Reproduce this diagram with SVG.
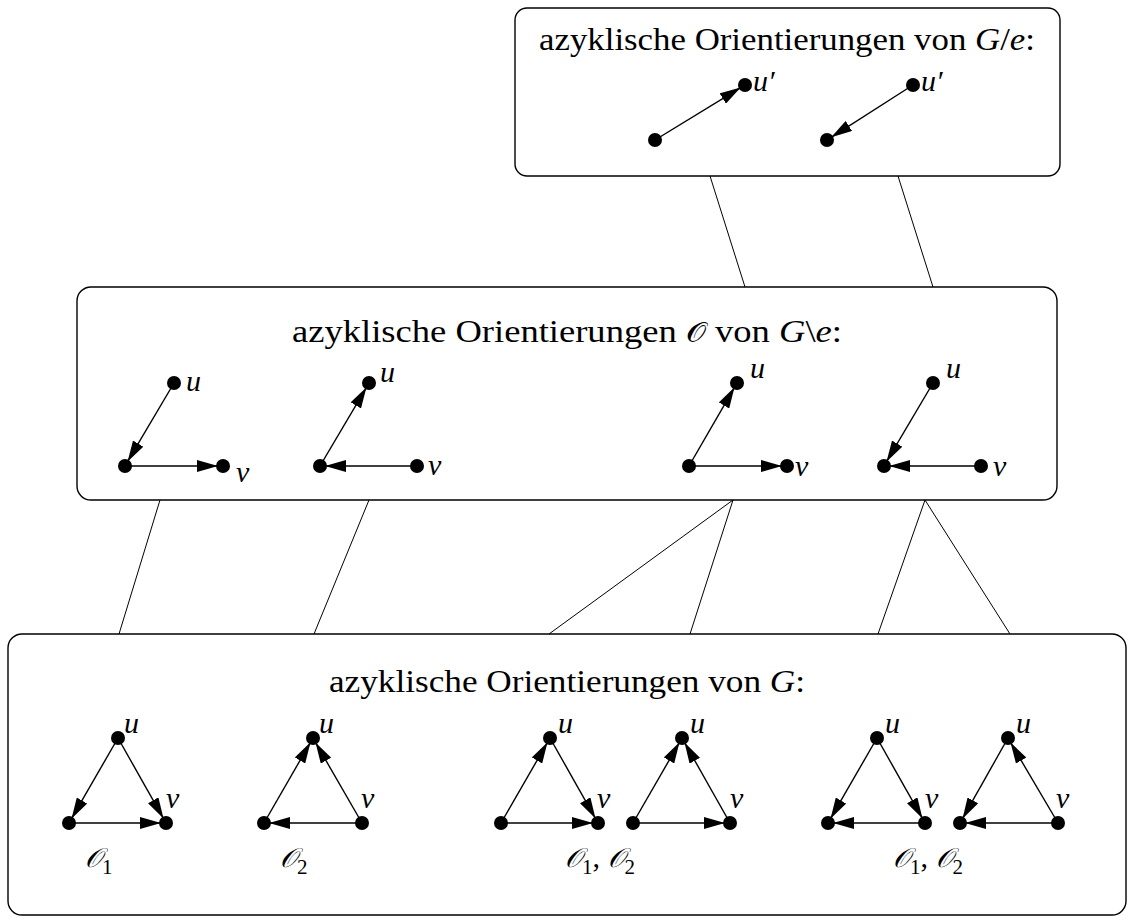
<svg xmlns="http://www.w3.org/2000/svg" width="1127" height="918" viewBox="0 0 1127 918">
<style>
.box{fill:none;stroke:#000;stroke-width:1.4}
.con{stroke:#000;stroke-width:1;fill:none}
.e{stroke:#000;stroke-width:1.4;fill:none;marker-end:url(#ah)}
.n{fill:#000}
.t{font-family:"Liberation Serif",serif;font-size:31px;fill:#000}
.m{font-family:"Liberation Serif",serif;font-style:italic;font-size:30px;fill:#000}
.i{font-style:italic}
.c{font-family:"DejaVu Serif",serif;font-size:27px}
.sub{font-family:"Liberation Serif",serif;font-size:21px;font-style:normal}
</style>
<defs>
<marker id="ah" viewBox="0 0 21 12" refX="21" refY="6" markerWidth="21" markerHeight="12" markerUnits="userSpaceOnUse" orient="auto">
<path d="M0,0 L21,6 L0,12 z" fill="#000"/>
</marker>
</defs>
<g id="connectors">
<line class="con" x1="710" y1="176" x2="745" y2="287"/>
<line class="con" x1="898" y1="176" x2="933" y2="287"/>
<line class="con" x1="160" y1="500" x2="119" y2="634"/>
<line class="con" x1="369" y1="500" x2="314" y2="634"/>
<line class="con" x1="733" y1="500" x2="549" y2="634"/>
<line class="con" x1="733" y1="500" x2="690" y2="634"/>
<line class="con" x1="925" y1="500" x2="878" y2="634"/>
<line class="con" x1="925" y1="500" x2="1010" y2="634"/>
</g>
<g id="top">
<rect class="box" x="515" y="8" width="545" height="168" rx="12"/>
<text class="t" x="539" y="50" textLength="496" lengthAdjust="spacingAndGlyphs">azyklische Orientierungen von <tspan class="i">G</tspan>/<tspan class="i">e</tspan>:</text>
<line class="e" x1="655" y1="140" x2="740.7" y2="87.6"/>
<circle class="n" cx="655" cy="140" r="7"/>
<circle class="n" cx="745" cy="85" r="7"/>
<text class="m" x="753" y="91">u′</text>
<line class="e" x1="913" y1="85" x2="831.2" y2="137.3"/>
<circle class="n" cx="913" cy="85" r="7"/>
<circle class="n" cx="827" cy="140" r="7"/>
<text class="m" x="921" y="91">u′</text>
</g>
<g id="middle">
<rect class="box" x="77" y="287" width="980" height="213" rx="14"/>
<text class="t" x="292" y="342" textLength="550" lengthAdjust="spacingAndGlyphs">azyklische Orientierungen <tspan class="c">𝒪</tspan> von <tspan class="i">G</tspan>\<tspan class="i">e</tspan>:</text>
<line class="e" x1="174" y1="383" x2="127.5" y2="461.7"/>
<line class="e" x1="125" y1="466" x2="218" y2="466"/>
<circle class="n" cx="174" cy="383" r="7"/>
<circle class="n" cx="125" cy="466" r="7"/>
<circle class="n" cx="223" cy="466" r="7"/>
<text class="m" x="186" y="391">u</text>
<text class="m" x="236" y="482">v</text>
<line class="e" x1="320" y1="466" x2="366.5" y2="387.3"/>
<line class="e" x1="417" y1="466" x2="325" y2="466"/>
<circle class="n" cx="369" cy="383" r="7"/>
<circle class="n" cx="320" cy="466" r="7"/>
<circle class="n" cx="417" cy="466" r="7"/>
<text class="m" x="380" y="382">u</text>
<text class="m" x="428" y="475">v</text>
<line class="e" x1="689" y1="466" x2="734.5" y2="387.3"/>
<line class="e" x1="689" y1="466" x2="782" y2="466"/>
<circle class="n" cx="737" cy="383" r="7"/>
<circle class="n" cx="689" cy="466" r="7"/>
<circle class="n" cx="787" cy="466" r="7"/>
<text class="m" x="750" y="378">u</text>
<text class="m" x="795" y="476">v</text>
<line class="e" x1="933" y1="383" x2="886.5" y2="461.7"/>
<line class="e" x1="981" y1="466" x2="889" y2="466"/>
<circle class="n" cx="933" cy="383" r="7"/>
<circle class="n" cx="884" cy="466" r="7"/>
<circle class="n" cx="981" cy="466" r="7"/>
<text class="m" x="946" y="378">u</text>
<text class="m" x="993" y="476">v</text>
</g>
<g id="bottom">
<rect class="box" x="8" y="634" width="1118" height="281" rx="14"/>
<text class="t" x="329" y="692" textLength="476" lengthAdjust="spacingAndGlyphs">azyklische Orientierungen von <tspan class="i">G</tspan>:</text>
</g>
<g id="T1">
<line class="e" x1="118" y1="738" x2="71.5" y2="818.7"/>
<line class="e" x1="118" y1="738" x2="163.5" y2="818.6"/>
<line class="e" x1="69" y1="823" x2="161" y2="823"/>
<circle class="n" cx="118" cy="738" r="7"/>
<circle class="n" cx="69" cy="823" r="7"/>
<circle class="n" cx="166" cy="823" r="7"/>
<text class="m" x="124" y="733">u</text>
<text class="m" x="166" y="808">v</text>
<text class="m" x="85" y="867"><tspan class="c">𝒪</tspan><tspan class="sub" dy="7">1</tspan></text>
</g>
<g id="T2">
<line class="e" x1="264" y1="823" x2="310.5" y2="742.3"/>
<line class="e" x1="362" y1="823" x2="315.5" y2="742.4"/>
<line class="e" x1="362" y1="823" x2="269" y2="823"/>
<circle class="n" cx="313" cy="738" r="7"/>
<circle class="n" cx="264" cy="823" r="7"/>
<circle class="n" cx="362" cy="823" r="7"/>
<text class="m" x="319" y="733">u</text>
<text class="m" x="361" y="808">v</text>
<text class="m" x="280" y="867"><tspan class="c">𝒪</tspan><tspan class="sub" dy="7">2</tspan></text>
</g>
<g id="T3">
<line class="e" x1="501" y1="823" x2="547.5" y2="742.3"/>
<line class="e" x1="550" y1="738" x2="595.5" y2="818.6"/>
<line class="e" x1="501" y1="823" x2="593" y2="823"/>
<circle class="n" cx="550" cy="738" r="7"/>
<circle class="n" cx="501" cy="823" r="7"/>
<circle class="n" cx="598" cy="823" r="7"/>
<text class="m" x="558" y="733">u</text>
<text class="m" x="597" y="808">v</text>
</g>
<g id="T4">
<line class="e" x1="633" y1="823" x2="679.5" y2="742.3"/>
<line class="e" x1="730" y1="823" x2="684.5" y2="742.4"/>
<line class="e" x1="633" y1="823" x2="725" y2="823"/>
<circle class="n" cx="682" cy="738" r="7"/>
<circle class="n" cx="633" cy="823" r="7"/>
<circle class="n" cx="730" cy="823" r="7"/>
<text class="m" x="690" y="733">u</text>
<text class="m" x="730" y="808">v</text>
<text class="m" x="565" y="867"><tspan class="c">𝒪</tspan><tspan class="sub" dy="7">1</tspan><tspan dy="-7" font-style="normal">, </tspan><tspan class="c">𝒪</tspan><tspan class="sub" dy="7">2</tspan></text>
</g>
<g id="T5">
<line class="e" x1="877" y1="738" x2="830.5" y2="818.7"/>
<line class="e" x1="877" y1="738" x2="922.5" y2="818.6"/>
<line class="e" x1="925" y1="823" x2="833" y2="823"/>
<circle class="n" cx="877" cy="738" r="7"/>
<circle class="n" cx="828" cy="823" r="7"/>
<circle class="n" cx="925" cy="823" r="7"/>
<text class="m" x="885" y="733">u</text>
<text class="m" x="925" y="808">v</text>
</g>
<g id="T6">
<line class="e" x1="1008" y1="738" x2="962.5" y2="818.7"/>
<line class="e" x1="1058" y1="823" x2="1010.5" y2="742.4"/>
<line class="e" x1="1058" y1="823" x2="965" y2="823"/>
<circle class="n" cx="1008" cy="738" r="7"/>
<circle class="n" cx="960" cy="823" r="7"/>
<circle class="n" cx="1058" cy="823" r="7"/>
<text class="m" x="1016" y="733">u</text>
<text class="m" x="1056" y="808">v</text>
<text class="m" x="893" y="867"><tspan class="c">𝒪</tspan><tspan class="sub" dy="7">1</tspan><tspan dy="-7" font-style="normal">, </tspan><tspan class="c">𝒪</tspan><tspan class="sub" dy="7">2</tspan></text>
</g>
</svg>
